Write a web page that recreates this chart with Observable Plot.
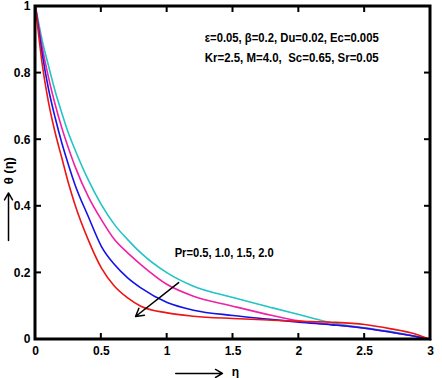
<!DOCTYPE html>
<html><head><meta charset="utf-8">
<script src="https://cdn.jsdelivr.net/npm/d3@7"></script>
<script src="https://cdn.jsdelivr.net/npm/@observablehq/plot@0.6"></script>
<style>body{margin:0;background:#fff}</style>
</head><body><div id="chart"></div>
<script>
const eta = [0,0.05,0.1,0.15,0.2,0.25,0.3,0.4,0.5,0.6,0.7,0.8,1.0,1.2,1.5,1.8,2.0,2.25,2.5,2.7,2.85,3.0];
const thetaPr05 = [1,0.90,0.82,0.745,0.68,0.62,0.57,0.48,0.405,0.345,0.30,0.26,0.20,0.16,0.126,0.095,0.075,0.05,0.035,0.024,0.013,0];
const thetaPr10 = [1,0.88,0.785,0.705,0.635,0.575,0.52,0.43,0.36,0.30,0.26,0.225,0.165,0.13,0.10,0.072,0.056,0.045,0.034,0.022,0.012,0];
const thetaPr15 = [1,0.86,0.75,0.665,0.59,0.525,0.465,0.37,0.28,0.225,0.185,0.155,0.111,0.088,0.072,0.06,0.052,0.044,0.034,0.022,0.012,0];
const thetaPr20 = [1,0.83,0.71,0.62,0.545,0.47,0.405,0.30,0.215,0.16,0.125,0.10,0.08,0.07,0.063,0.058,0.055,0.052,0.045,0.032,0.02,0];
const seriesNames = ["Pr=0.5","Pr=1.0","Pr=1.5","Pr=2.0"];
const seriesColors = ["#22c4c4","#ee22a4","#1414e6","#ee1414"];
const xTicks = [0,0.5,1,1.5,2,2.5,3];
const yTicks = [0,0.2,0.4,0.6,0.8,1];
const paramLines = ["ε=0.05, β=0.2, Du=0.02, Ec=0.005","Kr=2.5, M=4.0,  Sc=0.65, Sr=0.05"];
const prLabel = "Pr=0.5, 1.0, 1.5, 2.0";
// annotation anchor positions (data units)
const paramPos = [{x:1.285,y:0.907},{x:1.285,y:0.847}];
const prPos = {x:1.057,y:0.261};
const prArrow = {x1:1.087,y1:0.171,x2:0.76,y2:0.069};
const xLabelArrow = {x1:1.065,y1:-0.102,x2:1.42,y2:-0.102};
const xLabelPos = {x:1.49,y:-0.097};
const yLabelArrow = {x1:-0.205,y1:0.297,x2:-0.205,y2:0.44};
const yLabelPos = {x:-0.205,y:0.507};

const allSeries = [thetaPr05,thetaPr10,thetaPr15,thetaPr20];
const data = [];
allSeries.forEach((s,i)=>s.forEach((v,j)=>data.push({eta:eta[j],theta:v,series:seriesNames[i]})));

const font = "'Liberation Sans Narrow','Arial Narrow','Liberation Sans',Arial,sans-serif";

const plot = Plot.plot({
  width:442, height:378,
  marginLeft:35, marginRight:12, marginTop:6, marginBottom:39,
  style:{fontFamily:font, fontSize:"12px", fontWeight:"bold", background:"#fff", overflow:"visible"},
  x:{domain:[0,3]},
  y:{domain:[0,1]},
  color:{domain:seriesNames, range:seriesColors},
  marks:[
    Plot.line(data,{x:"eta",y:"theta",z:"series",stroke:"series",strokeWidth:1.6,curve:"monotone-x"}),
    Plot.axisX({ticks:xTicks, tickSize:0, tickPadding:7, tickFormat:d=>String(d), label:null, fontWeight:"bold", fontSize:12}),
    Plot.axisY({ticks:yTicks, tickSize:0, tickPadding:5, tickFormat:d=>String(d), label:null, fontWeight:"bold", fontSize:12}),
    Plot.text(paramLines,{x:(d,i)=>paramPos[i].x, y:(d,i)=>paramPos[i].y, text:d=>d, textAnchor:"start", fontSize:13, fontWeight:"bold"}),
    Plot.text([prLabel],{x:prPos.x, y:prPos.y, text:d=>d, textAnchor:"start", fontSize:13, fontWeight:"bold"}),
    Plot.arrow([prArrow],{x1:"x1",y1:"y1",x2:"x2",y2:"y2",stroke:"black",strokeWidth:1.5,headLength:9,bend:0}),
    Plot.arrow([xLabelArrow],{x1:"x1",y1:"y1",x2:"x2",y2:"y2",stroke:"black",strokeWidth:1.5,headLength:8,bend:0}),
    Plot.text(["η"],{x:xLabelPos.x, y:xLabelPos.y, text:d=>d, textAnchor:"start", fontSize:12, fontWeight:"bold"}),
    Plot.arrow([yLabelArrow],{x1:"x1",y1:"y1",x2:"x2",y2:"y2",stroke:"black",strokeWidth:1.5,headLength:8,bend:0}),
    Plot.text(["θ (η)"],{x:yLabelPos.x, y:yLabelPos.y, text:d=>d, rotate:-90, fontSize:13, fontWeight:"bold"})
  ]
});
const svg = d3.select(plot);
const widths = {};
widths[paramLines[0]] = 174; widths[paramLines[1]] = 174; widths[prLabel] = 99;
svg.selectAll("text").each(function(){
  const t = this.textContent;
  if (widths[t]) { this.setAttribute("textLength", widths[t]); this.setAttribute("lengthAdjust","spacingAndGlyphs"); }
});
// box and inward ticks, positioned through the plot's own scales
const sx = plot.scale("x"), sy = plot.scale("y");
const X0 = sx.apply(0), X1 = sx.apply(3), Y0 = sy.apply(0), Y1 = sy.apply(1);
const g = svg.append("g").attr("stroke","#000").attr("fill","none");
xTicks.forEach(v=>{
  const px = sx.apply(v);
  g.append("line").attr("x1",px).attr("x2",px).attr("y1",Y0).attr("y2",Y0-6).attr("stroke-width",2);
  g.append("line").attr("x1",px).attr("x2",px).attr("y1",Y1).attr("y2",Y1+6).attr("stroke-width",2);
});
yTicks.forEach(v=>{
  const py = sy.apply(v);
  g.append("line").attr("x1",X0).attr("x2",X0+6).attr("y1",py).attr("y2",py).attr("stroke-width",2);
  g.append("line").attr("x1",X1).attr("x2",X1-6).attr("y1",py).attr("y2",py).attr("stroke-width",2);
});
g.append("rect").attr("x",X0).attr("y",Y1).attr("width",X1-X0).attr("height",Y0-Y1).attr("stroke-width",3);
document.getElementById("chart").appendChild(plot);
</script>
</body></html>
